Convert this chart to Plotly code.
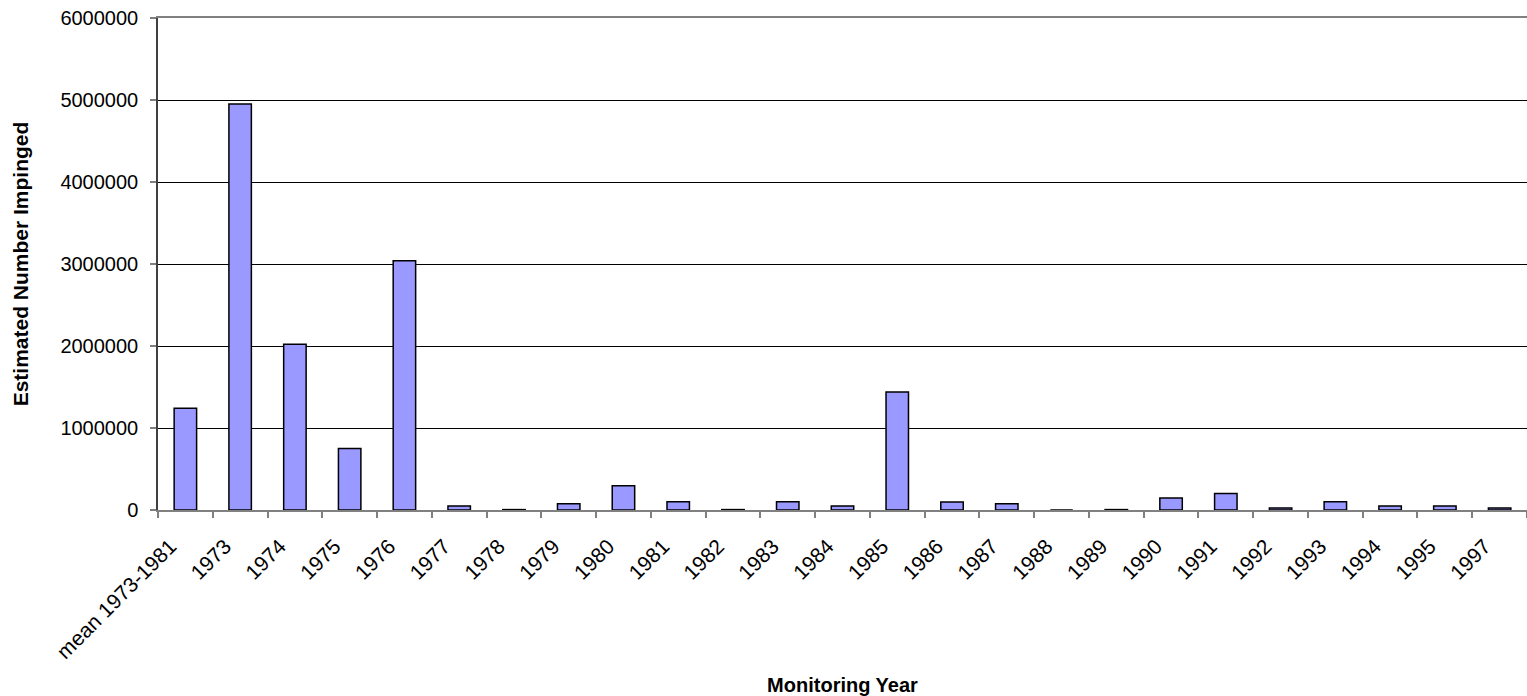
import plotly.graph_objects as go

categories = ["mean 1973-1981", "1973", "1974", "1975", "1976", "1977", "1978", "1979",
              "1980", "1981", "1982", "1983", "1984", "1985", "1986", "1987", "1988",
              "1989", "1990", "1991", "1992", "1993", "1994", "1995", "1997"]
impinged = [1240000, 4950000, 2020000, 750000, 3040000, 50000, 5000, 77000,
            296000, 100000, 5000, 100000, 50000, 1440000, 98000, 77000, 0,
            5000, 146000, 200000, 25000, 100000, 50000, 50000, 25000]
y_ticks = [0, 1000000, 2000000, 3000000, 4000000, 5000000, 6000000]

FONT = "Liberation Sans, Arial, sans-serif"

fig = go.Figure()
fig.add_trace(go.Bar(
    x=categories, y=impinged,
    marker=dict(color="#9999FF", line=dict(color="#000000", width=1.5)),
    width=0.41,
))

fig.update_layout(
    width=1527, height=696,
    margin=dict(l=158, r=0, t=18, b=186),
    paper_bgcolor="white", plot_bgcolor="white",
    showlegend=False,
    font=dict(family=FONT, color="#000000"),
    xaxis=dict(
        type="category",
        automargin=False,
        tickson="boundaries",
        ticks="outside", ticklen=6, tickcolor="#808080", tickwidth=1.5,
        showline=True, linecolor="#808080", linewidth=1.5, mirror=True,
        showgrid=False,
        tickangle=-45,
        tickfont=dict(family=FONT, size=21, color="#000000"),
        ticklabelstandoff=14,
        ticklabelshift=-15,
        title=dict(text="<b>Monitoring Year</b>", font=dict(family=FONT, size=20), standoff=22),
    ),
    yaxis=dict(
        range=[0, 6000000],
        automargin=False,
        tickvals=y_ticks,
        tickformat="d",
        ticks="outside", ticklen=6, tickcolor="#808080", tickwidth=1.5,
        showline=True, linecolor="#404040", linewidth=1.5,
        showgrid=True, gridcolor="#000000", gridwidth=1,
        zeroline=False,
        tickfont=dict(family=FONT, size=20, color="#000000"),
        ticklabelstandoff=8,
        title=dict(text="<b>Estimated Number Impinged</b>", font=dict(family=FONT, size=21), standoff=26),
    ),
)

fig.write_html("out.html")
